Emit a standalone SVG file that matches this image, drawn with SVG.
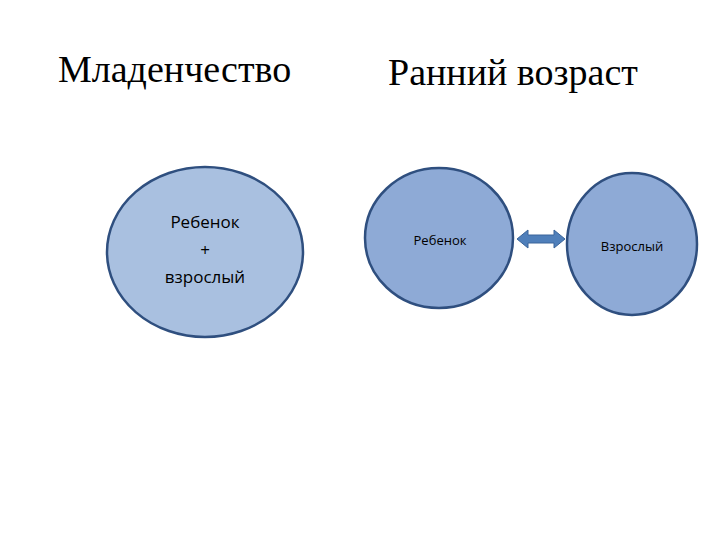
<svg xmlns="http://www.w3.org/2000/svg" width="720" height="540" viewBox="0 0 720 540">
<style>
.t{font-family:"Liberation Serif",serif;font-size:38px;fill:#000}
.n{font-family:"Open Sans","DejaVu Sans",sans-serif;fill:#000;text-anchor:middle}
.c{stroke:#2f4f7f;stroke-width:2.5}
</style>
<rect width="720" height="540" fill="#fff"/>
<text class="t" x="58" y="82">Младенчество</text>
<text class="t" x="388" y="85">Ранний возраст</text>
<g id="infant"><ellipse class="c" cx="205" cy="252" rx="98" ry="85" fill="#a9c0e0"/>
<text class="n" font-size="17" x="205" y="228">Ребенок</text>
<text class="n" font-size="17" x="205" y="256">+</text>
<text class="n" font-size="17" x="205" y="283">взрослый</text></g>
<g id="child"><ellipse class="c" cx="439" cy="238" rx="74" ry="70" fill="#8eaad6"/>
<text class="n" font-size="13" x="440" y="245">Ребенок</text></g>
<g id="adult"><ellipse class="c" cx="632" cy="244" rx="65" ry="71" fill="#8eaad6"/>
<text class="n" font-size="13" x="632" y="251">Взрослый</text></g>
<g id="connectors"><path d="M517,239 L528,230 L528,235 L554,235 L554,230 L565,239 L554,248 L554,243 L528,243 L528,248 Z" fill="#4f7fba" stroke="#3a649a" stroke-width="1"/></g>
</svg>
